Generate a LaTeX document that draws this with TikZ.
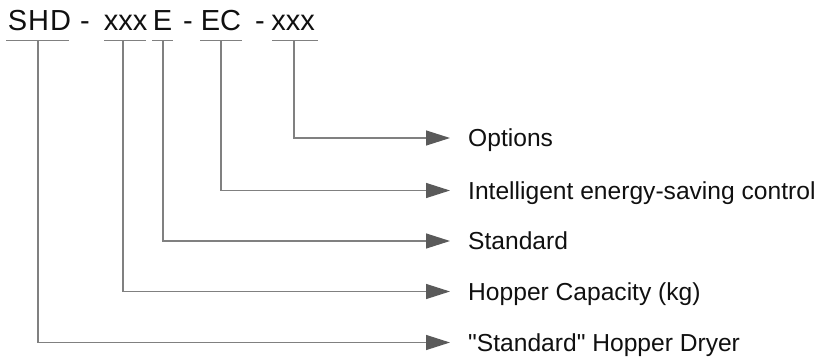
\documentclass[tikz,border=0pt]{standalone}
\usepackage{fontspec}
\setmainfont{Liberation Sans}
\newfontfamily\plainsans{Liberation Sans}
\usetikzlibrary{arrows.meta}
\definecolor{linegray}{HTML}{808080}
\definecolor{headgray}{HTML}{5A5A5A}
\definecolor{txt}{HTML}{101010}
\tikzset{
  code/.style={anchor=base, inner sep=0pt, font=\plainsans\fontsize{29}{33}\selectfont, text=txt},
  ul/.style={draw=linegray, line width=1.2pt},
  lbl/.style={anchor=west, inner sep=0pt, text height=17.5pt, text depth=0pt, font=\plainsans\fontsize{24.6}{28}\selectfont, text=txt},
  conn/.style={draw=linegray, line width=1.2pt, -{Triangle[length=24pt,width=15pt,color=headgray]}}
}
\begin{document}
\begin{tikzpicture}[x=1pt,y=-1pt]
\useasboundingbox (0,0) rectangle (829,356);
% code text
\node[code] (c1) at (39.5,30) {S\kern1pt H\kern1pt D};
\node[code] (d1) at (85,30) {-};
\node[code] (c2) at (125.5,30) {xxx};
\node[code] (c3) at (162.5,30) {E};
\node[code] (d2) at (188,30) {-};
\node[code] (c4) at (221,30) {EC};
\node[code] (d3) at (260,30) {-};
\node[code] (c5) at (293,30) {xxx};
% underlines
\draw[ul] (6,40.5) -- (69,40.5);
\draw[ul] (104,40.5) -- (146,40.5);
\draw[ul] (152,40.5) -- (173,40.5);
\draw[ul] (200,40.5) -- (242,40.5);
\draw[ul] (272,40.5) -- (318,40.5);
\coordinate (u1) at (38,40.5);
\coordinate (u2) at (123,40.5);
\coordinate (u3) at (163,40.5);
\coordinate (u4) at (221,40.5);
\coordinate (u5) at (294,40.5);
% labels
\node[lbl] (l5) at (468,138) {Options};
\node[lbl] (l4) at (468,190.5) {Intelligent energy-saving control};
\node[lbl] (l3) at (468,241) {Standard};
\node[lbl] (l2) at (468,291.5) {Hopper Capacity (kg)};
\node[lbl] (l1) at (468,342.5) {"Standard" Hopper Dryer};
% connectors
\draw[conn] (u5) |- ([xshift=-18pt]l5.west);
\draw[conn] (u4) |- ([xshift=-18pt]l4.west);
\draw[conn] (u3) |- ([xshift=-18pt]l3.west);
\draw[conn] (u2) |- ([xshift=-18pt]l2.west);
\draw[conn] (u1) |- ([xshift=-18pt]l1.west);
\end{tikzpicture}
\end{document}
